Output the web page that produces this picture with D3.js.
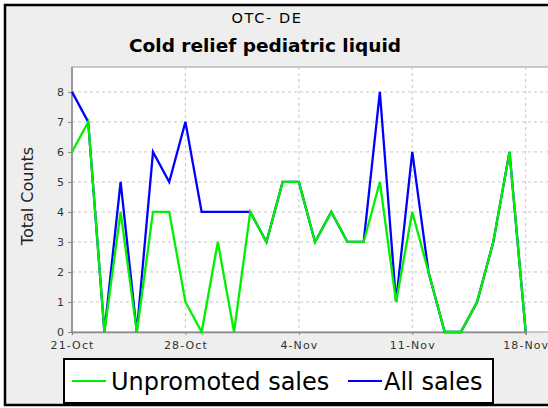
<!DOCTYPE html>
<html>
<head>
<meta charset="utf-8">
<script src="https://cdn.jsdelivr.net/npm/d3@7"></script>
<style>
  body { margin: 0; background: #fff; }
  svg { display: block; }
</style>
</head>
<body>
<svg width="548" height="408"></svg>
<script>
(function () {

// daily values, 21-Oct .. 18-Nov
var startDay = new Date(2007, 9, 21);
var allSales = [8,7,0,5,0,6,5,7,4,4,4,4,3,5,5,3,4,3,3,8,1,6,2,0,0,1,3,6,0];
var unpromoted = [6,7,0,4,0,4,4,1,0,3,0,4,3,5,5,3,4,3,3,5,1,4,2,0,0,1,3,6,0];
var yTicks = [0,1,2,3,4,5,6,7,8];
var xTickDays = [0,7,14,21,28];
var seriesNames = ["Unpromoted sales", "All sales"];
var seriesColors = ["#00f000", "#0000ff"];

var svg = d3.select('svg');
var font = "'DejaVu Sans', sans-serif";

var dayOf = function(i) { return d3.timeDay.offset(startDay, i); }

// frame + background
svg.append('rect').attr('x',0).attr('y',0).attr('width',548).attr('height',408).style('fill','#fff');
svg.append('rect').attr('x',5).attr('y',5).attr('width',560).attr('height',400)
  .style('fill','#eeeeee').style('stroke','#000').style('stroke-width',2.5);

// titles
svg.append('text').attr('x',267).attr('y',23).attr('text-anchor','middle')
  .style('font-family',font).style('font-size','14.5px').style('letter-spacing','1.6px')
  .text('OTC- DE');
svg.append('text').attr('x',265).attr('y',52).attr('text-anchor','middle')
  .style('font-family',font).style('font-size','18.5px').style('font-weight','bold')
  .text('Cold relief pediatric liquid');

var left = 72, top = 67, bottom = 332;
var x = d3.scaleTime().domain([dayOf(0), dayOf(28)]).range([left, 525.7]);
var y = d3.scaleLinear().domain([0, 8.83]).range([bottom, top]);

// plot area
svg.append('rect').attr('x',left).attr('y',top).attr('width',548-left+20).attr('height',bottom-top)
  .style('fill','#fff').style('stroke','#999').style('stroke-width',1);

// gridlines
svg.selectAll('.hgrid').data(yTicks.slice(1)).enter().append('line')
  .attr('x1',left).attr('x2',560).attr('y1',function(d){return y(d);}).attr('y2',function(d){return y(d);})
  .style('stroke','#c8c8c8').style('stroke-dasharray','3,3').style('stroke-width',1);
svg.selectAll('.vgrid').data(xTickDays.slice(1)).enter().append('line')
  .attr('x1',function(d){return x(dayOf(d));}).attr('x2',function(d){return x(dayOf(d));})
  .attr('y1',top).attr('y2',bottom)
  .style('stroke','#c8c8c8').style('stroke-dasharray','3,3').style('stroke-width',1);

// axes
var yAxis = d3.axisLeft(y).tickValues(yTicks).tickSize(4).tickPadding(4);
var gy = svg.append('g').attr('transform','translate(' + left + ',0)').call(yAxis);
var xAxis = d3.axisBottom(x).tickValues(xTickDays.map(dayOf)).tickFormat(d3.timeFormat('%-d-%b')).tickSize(3).tickPadding(6);
var gx = svg.append('g').attr('transform','translate(0,' + bottom + ')').call(xAxis);
[gx, gy].forEach(function(g) {
  g.select('.domain').style('stroke','#888').style('stroke-width',1.5);
  g.selectAll('.tick line').style('stroke','#888');
  g.selectAll('text').style('font-family',font).style('font-size','11px').style('fill','#333');
});
gx.selectAll('text').style('letter-spacing','1.1px');
gy.select('.domain').attr('d','M-0,' + bottom + 'V' + top);

svg.append('text').attr('transform','translate(33,196) rotate(-90)').attr('text-anchor','middle')
  .style('font-family',font).style('font-size','16px').style('fill','#222')
  .text('Total Counts');

// lines: all sales under, unpromoted on top
var line = d3.line().x(function(d,i){return x(dayOf(i));}).y(function(d){return y(d);});
[[allSales,1],[unpromoted,0]].forEach(function(s) {
  svg.append('path').datum(s[0]).attr('d',line)
    .style('fill','none').style('stroke',seriesColors[s[1]]).style('stroke-width',2.3)
    .style('stroke-linejoin','miter');
});

// legend
svg.append('rect').attr('x',64).attr('y',359).attr('width',429).attr('height',44)
  .style('fill','#fff').style('stroke','#000').style('stroke-width',2);
var legendX = [[72,111],[348,384]];
seriesNames.forEach(function(name,i) {
  svg.append('line').attr('x1',legendX[i][0]).attr('x2',legendX[i][0]+34).attr('y1',381).attr('y2',381)
    .style('stroke',seriesColors[i]).style('stroke-width',2);
  svg.append('text').attr('x',legendX[i][1]).attr('y',390)
    .style('font-family',font).style('font-size','24px').style('fill','#000')
    .text(name);
});

})();
</script>
</body>
</html>
